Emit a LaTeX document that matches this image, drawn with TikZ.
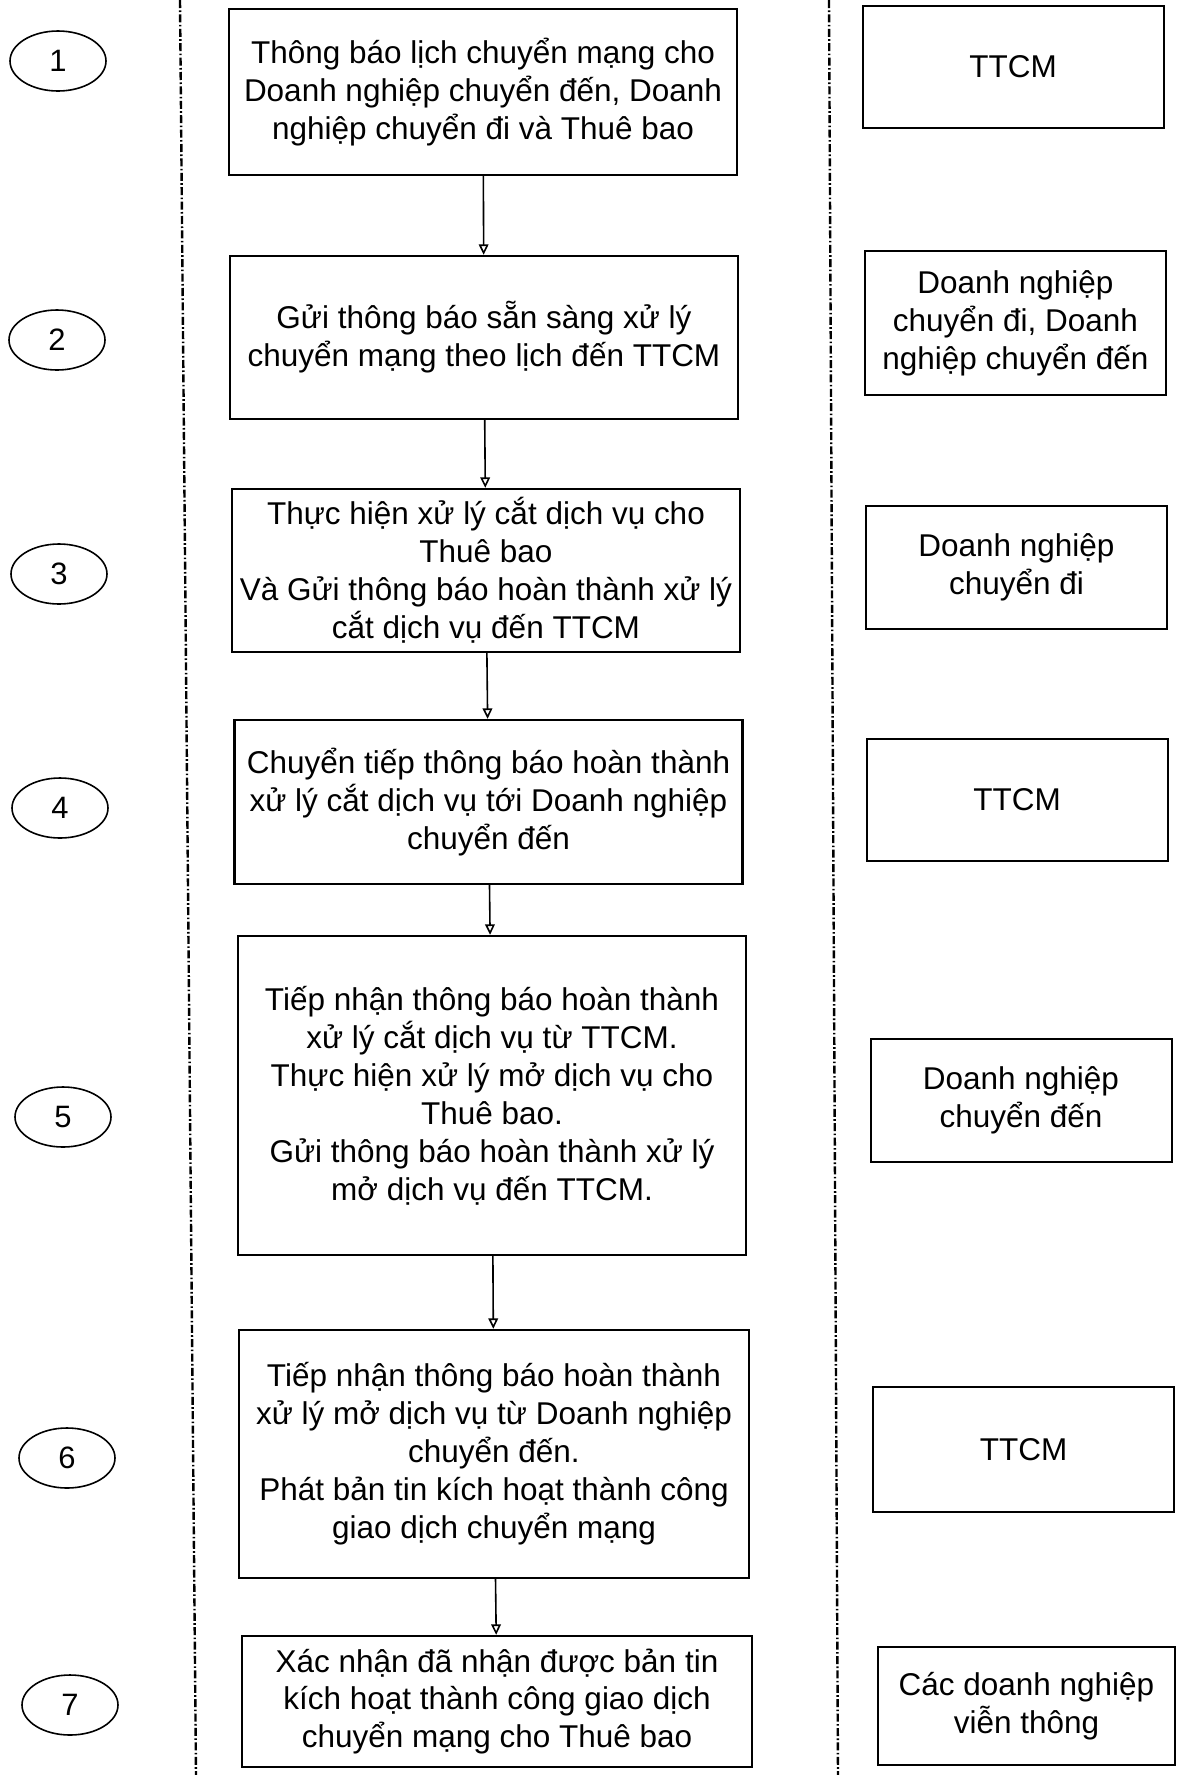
\documentclass[tikz,border=0pt]{standalone}
\usepackage{fontspec}
\setmainfont{Liberation Sans}
\usetikzlibrary{shapes.geometric,arrows.meta}

\begin{document}
\begin{tikzpicture}[x=0.25mm,y=-0.25mm,
  stepbox/.style={draw,line width=0.6mm,align=center,inner sep=0pt,font=\fontsize{22.4}{27}\selectfont,minimum width=127mm},
  rolebox/.style={draw,line width=0.5mm,align=center,inner sep=0pt,font=\fontsize{22.4}{27}\selectfont,minimum width=75.25mm},
  stepno/.style={draw,ellipse,line width=0.4mm,minimum width=24mm,minimum height=15mm,inner sep=0pt,font=\fontsize{22}{26}\selectfont},
  flow/.style={line width=0.4mm,-{Triangle[open,width=2.4mm,length=2.6mm]}},
  lane/.style={line width=0.6mm,dash pattern=on 2mm off 0.6mm on 0.4mm off 0.6mm}]
% 1176 x 1775 px, white page
\useasboundingbox (0,0) rectangle (1176,1775);
\draw[lane] (180,0) -- (196,1775);
\draw[lane] (829,0) -- (838,1775);
% step numbers
\node[stepno] (n1) at (58,61) {1};
\node[stepno] (n2) at (57,340) {2};
\node[stepno] (n3) at (59,574) {3};
\node[stepno] (n4) at (60,808) {4};
\node[stepno] (n5) at (63,1117) {5};
\node[stepno] (n6) at (67,1458) {6};
\node[stepno] (n7) at (70,1705) {7};
% steps
\node[stepbox,minimum height=41.5mm] (s1) at (483,92) {Thông báo lịch chuyển mạng cho\\Doanh nghiệp chuyển đến, Doanh\\nghiệp chuyển đi và Thuê bao};
\node[stepbox,minimum height=40.75mm] (s2) at (484,337.5) {Gửi thông báo sẵn sàng xử lý\\chuyển mạng theo lịch đến TTCM};
\node[stepbox,minimum height=40.75mm] (s3) at (486,570.5) {Thực hiện xử lý cắt dịch vụ cho\\Thuê bao\\Và Gửi thông báo hoàn thành xử lý\\cắt dịch vụ đến TTCM};
\node[stepbox,minimum height=41mm] (s4) at (488.5,802) {Chuyển tiếp thông báo hoàn thành\\xử lý cắt dịch vụ tới Doanh nghiệp\\chuyển đến};
\node[stepbox,minimum height=79.75mm] (s5) at (492,1095.5) {Tiếp nhận thông báo hoàn thành\\xử lý cắt dịch vụ từ TTCM.\\Thực hiện xử lý mở dịch vụ cho\\Thuê bao.\\Gửi thông báo hoàn thành xử lý\\mở dịch vụ đến TTCM.};
\node[stepbox,minimum width=127.5mm,minimum height=62mm] (s6) at (494,1454) {Tiếp nhận thông báo hoàn thành\\xử lý mở dịch vụ từ Doanh nghiệp\\chuyển đến.\\Phát bản tin kích hoạt thành công\\giao dịch chuyển mạng};
\node[stepbox,minimum width=127.5mm,minimum height=32.75mm] (s7) at (497,1701.5) {Xác nhận đã nhận được bản tin\\kích hoạt thành công giao dịch\\chuyển mạng cho Thuê bao};
% who does it
\node[rolebox,minimum height=30.5mm] (r1) at (1013,67) {TTCM};
\node[rolebox,minimum height=36mm] (r2) at (1015.5,323) {Doanh nghiệp\\chuyển đi, Doanh\\nghiệp chuyển đến};
\node[rolebox,minimum height=30.75mm] (r3) at (1016.5,567.5) {Doanh nghiệp\\chuyển đi};
\node[rolebox,minimum height=30.5mm] (r4) at (1017,800) {TTCM};
\node[rolebox,minimum height=30.75mm] (r5) at (1021,1100.5) {Doanh nghiệp\\chuyển đến};
\node[rolebox,minimum height=31.25mm] (r6) at (1023.5,1449.5) {TTCM};
\node[rolebox,minimum width=74.25mm,minimum height=29.5mm] (r7) at (1026.5,1706) {Các doanh nghiệp\\viễn thông};
% flow
\draw[flow] (s1) -- (s2);
\draw[flow] (s2) -- (s3);
\draw[flow] (s3) -- (s4);
\draw[flow] (s4) -- (s5);
\draw[flow] (s5) -- (s6);
\draw[flow] (s6) -- (s7);
\end{tikzpicture}
\end{document}
